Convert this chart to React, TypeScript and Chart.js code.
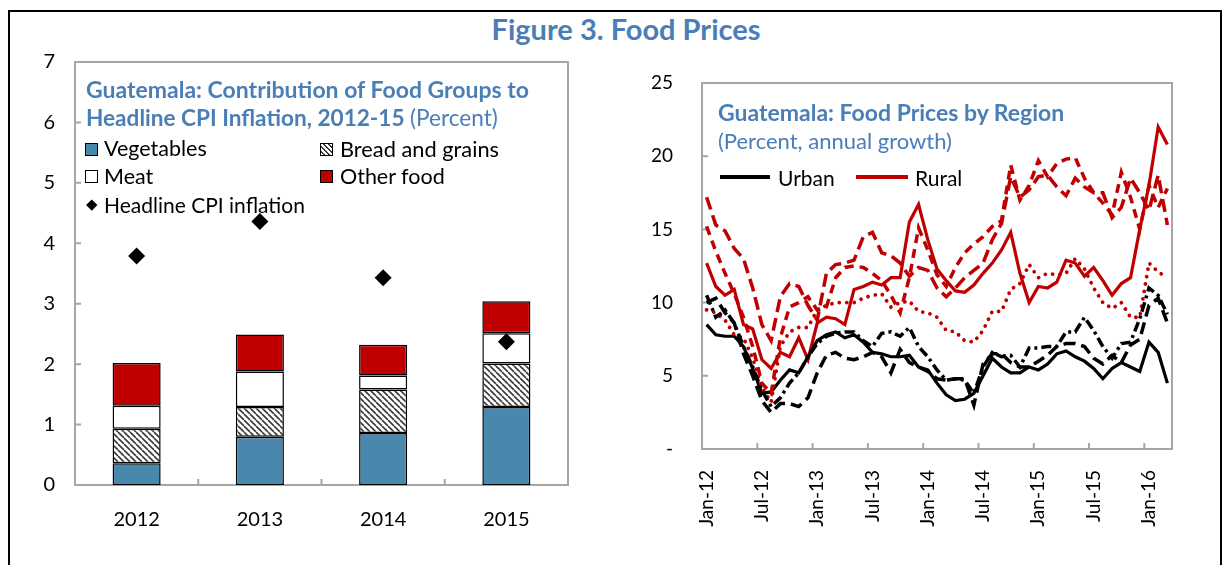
import React, { useEffect, useRef } from 'react';
import { Chart, registerables } from 'chart.js';

Chart.register(...registerables);

const FONT = 'Lato, "Noto Sans", sans-serif';
const TITLE_BLUE = '#4A7EB6';
const VEG_BLUE = '#4A87AD';
const DARK_RED = '#C00000';
const AXIS_GRAY = '#A6A6A6';

// ---------- Left panel data ----------
const years = ['2012', '2013', '2014', '2015'];
const vegetables = [0.36, 0.8, 0.86, 1.29];
const breadGrains = [0.57, 0.49, 0.72, 0.72];
const meat = [0.38, 0.59, 0.23, 0.5];
const otherFood = [0.71, 0.61, 0.51, 0.53];
const headlineCPI = [3.79, 4.36, 3.43, 2.37];

// ---------- Right panel data ----------
const monthAbbr = ['Jan', 'Feb', 'Mar', 'Apr', 'May', 'Jun', 'Jul', 'Aug', 'Sep', 'Oct', 'Nov', 'Dec'];
const yearSuffixes = ['12', '13', '14', '15', '16'];
const monthCount = 51;
const months = yearSuffixes.flatMap((y) => monthAbbr.map((m) => `${m}-${y}`)).slice(0, monthCount);

const urban = [
  8.5, 7.8, 7.7, 7.7, 7.0, 5.5, 3.8, 3.9, 4.7, 5.4,
  5.2, 6.3, 7.4, 7.8, 8.0, 7.6, 7.8, 7.3, 6.6, 6.5,
  6.3, 6.3, 6.4, 5.6, 5.4, 4.5, 3.7, 3.3, 3.4, 3.8,
  5.0, 6.2, 5.6, 5.2, 5.2, 5.6, 5.4, 5.8, 6.5, 6.7,
  6.3, 6.0, 5.5, 4.8, 5.5, 5.9, 5.6, 5.3, 7.3, 6.6,
  4.5,
];
const rural = [
  12.7, 11.1, 10.5, 10.9, 8.5, 8.2, 6.1, 5.5, 6.6, 6.3,
  7.6, 6.1, 8.6, 9.0, 8.9, 8.5, 10.9, 11.1, 11.4, 11.2,
  11.7, 11.7, 15.5, 16.7, 14.3, 12.3, 11.5, 10.8, 10.7, 11.2,
  12.0, 12.7, 13.6, 14.8, 12.0, 10.0, 11.1, 11.0, 11.4, 12.9,
  12.7, 11.8, 12.4, 11.5, 10.5, 11.3, 11.7, 15.0, 18.0, 22.0,
  20.8,
];
const urbanLongDash = [
  10.0, 10.3, 9.3, 8.6, 6.5, 5.0, 3.3, 2.5, 3.1, 3.1,
  2.9, 3.5, 5.2, 6.4, 6.6, 6.2, 6.1, 6.3, 6.6, 6.3,
  5.2, 6.8, 5.9, 5.6, 5.3, 4.8, 4.7, 4.8, 4.8, 3.0,
  5.8, 6.5, 6.5, 5.9, 5.6, 5.6, 6.0, 6.4, 7.0, 7.2,
  7.2, 7.0, 6.2, 5.8, 6.4, 5.9, 7.1, 7.5, 9.8, 10.3,
  8.6,
];
const urbanDashDot = [
  10.5, 9.0, 9.5, 8.6, 7.0, 5.6, 4.0, 2.9, 3.5, 4.5,
  5.2, 6.3, 7.2, 7.7, 7.9, 8.0, 8.0, 7.4, 7.0, 7.9,
  8.0, 7.7, 8.3, 7.0, 6.3, 5.4, 4.7, 4.8, 4.7, 3.8,
  5.6, 6.6, 6.3, 6.4, 5.6, 6.9, 6.9, 7.0, 7.0, 8.0,
  8.0, 9.0, 8.1, 7.0, 6.2, 7.2, 7.3, 8.9, 11.0, 10.5,
  9.2,
];
const ruralLongDash = [
  17.2, 15.3, 14.9, 13.7, 13.0, 11.0, 8.5, 7.4, 10.4, 11.3,
  11.1, 9.8, 8.8, 12.0, 12.6, 12.7, 12.9, 14.5, 14.8, 13.4,
  13.2, 12.7, 11.8, 12.4, 12.2, 11.0, 10.4, 11.0, 11.7, 12.2,
  12.7, 14.3, 15.4, 18.6, 17.2, 17.7, 18.6, 18.7, 17.9, 17.3,
  18.5, 17.9, 17.5, 17.5, 15.8, 16.5, 18.5, 17.5, 16.3, 18.7,
  15.3,
];
const ruralDash = [
  15.2, 13.5, 12.0, 10.6, 9.0, 7.0, 4.5, 3.8, 7.6, 9.7,
  10.0, 10.4, 9.5, 9.7, 11.7, 12.4, 12.5, 12.4, 12.0, 11.5,
  10.5, 9.3, 11.7, 15.1, 13.6, 11.9, 11.1, 12.4, 13.4, 14.0,
  14.5, 15.2, 15.6, 19.4, 17.0, 18.0, 19.7, 18.6, 19.5, 19.8,
  19.9, 18.5, 17.5, 16.8, 16.0, 18.9, 17.2, 15.0, 18.0, 16.5,
  17.8,
];
const ruralDot = [
  9.5, 9.3, 8.8, 7.8, 7.6, 6.2, 4.2, 3.2, 7.0, 8.0,
  8.3, 8.3, 9.5, 9.8, 10.0, 10.0, 10.0, 10.3, 10.5, 10.6,
  9.7, 10.0, 10.1, 9.4, 9.3, 9.0, 8.1, 8.0, 7.4, 7.3,
  8.1, 9.4, 9.4, 10.9, 11.3, 12.6, 11.7, 12.0, 11.9, 12.0,
  13.0, 12.3, 11.0, 10.0, 9.6, 10.0, 9.0, 9.0, 12.7, 12.1,
  11.7,
];

Chart.defaults.font.family = FONT;
Chart.defaults.color = '#000';

const frameAndTicks = {
  id: 'frameAndTicks',
  beforeDatasetsDraw(chart: any, _args: any, opts: any) {
    const { ctx, chartArea: a } = chart;
    const xs = chart.scales.x;
    const ys = chart.scales.y;
    ctx.save();
    ctx.strokeStyle = AXIS_GRAY;
    ctx.lineWidth = 2;
    ctx.strokeRect(a.left, a.top, a.right - a.left, a.bottom - a.top);
    ctx.beginPath();
    ys.ticks.forEach((t: any) => {
      const y = ys.getPixelForValue(t.value);
      ctx.moveTo(a.left, y);
      ctx.lineTo(a.left + 6, y);
    });
    const n = xs.ticks.length;
    const step = n > 1 ? xs.getPixelForTick(1) - xs.getPixelForTick(0) : 0;
    const every = (opts && opts.every) || 1;
    for (let i = 1; i < n; i++) {
      if (i % every !== 0) continue;
      const x = xs.getPixelForTick(i) - step / 2;
      ctx.moveTo(x, a.bottom);
      ctx.lineTo(x, a.bottom - 6);
    }
    ctx.stroke();
    ctx.restore();
  },
};

function makeHatch(): CanvasPattern | string {
  const pc = document.createElement('canvas');
  pc.width = 6;
  pc.height = 6;
  const p = pc.getContext('2d');
  if (!p) return '#999';
  p.fillStyle = '#fff';
  p.fillRect(0, 0, 6, 6);
  p.strokeStyle = '#3a3a3a';
  p.lineWidth = 1.6;
  p.beginPath();
  for (const off of [-6, 0, 6]) {
    p.moveTo(off, 0);
    p.lineTo(off + 6, 6);
  }
  p.stroke();
  return p.createPattern(pc, 'repeat') || '#999';
}

const fixY = (w: number) => (s: any) => {
  s.width = w;
  s.paddingTop = 0;
  s.paddingBottom = 0;
};
const fixX = (h: number) => (s: any) => {
  s.height = h;
  s.paddingLeft = 0;
  s.paddingRight = 0;
};

function LeftChart() {
  const ref = useRef<HTMLCanvasElement>(null);
  useEffect(() => {
    if (!ref.current) return;
    const hatch = makeHatch();
    const chart = new Chart(ref.current, {
      type: 'bar',
      data: {
        labels: years,
        datasets: [
          {
            type: 'line',
            label: 'Headline CPI inflation',
            data: headlineCPI,
            showLine: false,
            pointStyle: 'rectRot',
            pointRadius: 8.5,
            pointBorderWidth: 0,
            pointBackgroundColor: '#000',
            pointBorderColor: '#000',
            borderColor: '#000',
            backgroundColor: '#000',
            order: 0,
            stack: 'cpi',
          } as any,
          { label: 'Vegetables', data: vegetables, backgroundColor: VEG_BLUE, order: 1, stack: 'food' },
          { label: 'Bread and grains', data: breadGrains, backgroundColor: hatch as any, order: 1, stack: 'food' },
          { label: 'Meat', data: meat, backgroundColor: '#ffffff', order: 1, stack: 'food' },
          { label: 'Other food', data: otherFood, backgroundColor: DARK_RED, order: 1, stack: 'food' },
        ],
      },
      options: {
        responsive: false,
        animation: false,
        devicePixelRatio: 1,
        layout: { padding: { top: 14, right: 52, left: 0, bottom: 0 } },
        datasets: {
          bar: {
            borderColor: '#000',
            borderWidth: 1.5,
            borderSkipped: false,
            categoryPercentage: 1,
            barPercentage: 0.39,
          },
        },
        plugins: {
          legend: { display: false },
          tooltip: { enabled: false },
          frameAndTicks: { every: 1 },
        } as any,
        scales: {
          x: {
            stacked: true,
            grid: { display: false, drawTicks: false },
            border: { display: false },
            ticks: { color: '#000', font: { size: 20 }, padding: 23 },
            afterFit: fixX(80),
          },
          y: {
            stacked: true,
            min: 0,
            max: 7,
            ticks: { stepSize: 1, color: '#000', font: { size: 20 }, padding: 20 },
            grid: { display: false, drawTicks: false },
            border: { display: false },
            afterFit: fixY(65),
          },
        },
      } as any,
      plugins: [frameAndTicks],
    });
    return () => chart.destroy();
  }, []);
  return <canvas ref={ref} width={610} height={517} style={{ position: 'absolute', left: 2, top: 40 }} />;
}

function RightChart() {
  const ref = useRef<HTMLCanvasElement>(null);
  useEffect(() => {
    if (!ref.current) return;
    const line = (label: string, data: number[], color: string, dash: number[], cap: string = 'butt', width = 3.2) => ({
      label,
      data,
      borderColor: color,
      backgroundColor: color,
      borderWidth: width,
      borderDash: dash,
      borderCapStyle: cap,
      pointRadius: 0,
      tension: 0,
      fill: false,
    });
    const chart = new Chart(ref.current, {
      type: 'line',
      data: {
        labels: months,
        datasets: [
          line('Urban (dash-dot)', urbanDashDot, '#000', [10, 4, 3, 4], 'butt', 3.5),
          line('Urban (long dash)', urbanLongDash, '#000', [12, 6], 'butt', 3.5),
          line('Rural (dotted)', ruralDot, DARK_RED, [0.01, 7.5], 'round', 3.8),
          line('Rural (dash)', ruralDash, DARK_RED, [9, 6], 'butt', 3.5),
          line('Rural (long dash)', ruralLongDash, DARK_RED, [13, 6], 'butt', 3.5),
          line('Urban', urban, '#000', []),
          line('Rural', rural, DARK_RED, []),
        ] as any,
      },
      options: {
        responsive: false,
        animation: false,
        devicePixelRatio: 1,
        layout: { padding: { top: 35, right: 48, left: 0, bottom: 0 } },
        plugins: {
          legend: { display: false },
          tooltip: { enabled: false },
          frameAndTicks: { every: 6 },
        } as any,
        scales: {
          x: {
            type: 'category',
            offset: true,
            grid: { display: false, drawTicks: false },
            border: { display: false },
            ticks: {
              autoSkip: false,
              minRotation: 90,
              maxRotation: 90,
              color: '#000',
              font: { size: 19 },
              padding: 21,
              callback: (_v: any, i: number) => (i % 6 === 0 ? months[i] : ''),
            },
            afterFit: fixX(116),
          },
          y: {
            min: 0,
            max: 25,
            ticks: {
              stepSize: 5,
              color: '#000',
              font: { size: 19 },
              padding: 29,
              callback: (v: any) => (v === 0 ? '-' : String(v)),
            },
            grid: { display: false, drawTicks: false },
            border: { display: false },
            afterFit: fixY(82),
          },
        },
      } as any,
      plugins: [frameAndTicks],
    });
    return () => chart.destroy();
  }, []);
  return <canvas ref={ref} width={600} height={517} style={{ position: 'absolute', left: 612, top: 40 }} />;
}

type LabelProps = {
  x: number;
  cy: number;
  size: number;
  bold?: boolean;
  color?: string;
  center?: boolean;
  children: React.ReactNode;
};

function Label({ x, cy, size, bold, color, center, children }: LabelProps) {
  const top = cy - 8 - 0.629 * size;
  return (
    <div
      style={{
        position: 'absolute',
        left: x - 8,
        top,
        fontFamily: FONT,
        fontSize: size,
        lineHeight: `${1.2 * size}px`,
        fontWeight: bold ? 700 : 400,
        color: color || '#000',
        whiteSpace: 'nowrap',
        transform: center ? 'translateX(-50%)' : undefined,
      }}
    >
      {children}
    </div>
  );
}

function Box({ x, y, w, h, style }: { x: number; y: number; w: number; h: number; style: React.CSSProperties }) {
  return <div style={{ position: 'absolute', left: x - 8, top: y - 8, width: w, height: h, boxSizing: 'border-box', ...style }} />;
}

export default function App() {
  return (
    <div style={{ position: 'relative', width: 1214, height: 557, overflow: 'hidden', fontFamily: FONT }}>
      <div
        style={{
          position: 'absolute',
          left: 0,
          top: 2,
          width: 1214,
          height: 600,
          boxSizing: 'border-box',
          borderTop: '2px solid #000',
          borderLeft: '2px solid #000',
          borderRight: '2px solid #000',
        }}
      />
      <LeftChart />
      <RightChart />

      <Label x={626} cy={30} size={29} bold color={TITLE_BLUE} center>
        Figure 3. Food Prices
      </Label>

      {/* Left panel title and legend */}
      <Label x={86} cy={90} size={23} bold color={TITLE_BLUE}>
        Guatemala: Contribution of Food Groups to
      </Label>
      <Label x={86} cy={118} size={22.6} bold color={TITLE_BLUE}>
        Headline CPI Inflation, 2012-15 <span style={{ fontWeight: 400 }}>(Percent)</span>
      </Label>

      <Box x={85} y={143} w={13} h={13} style={{ background: VEG_BLUE, border: '1.5px solid #000' }} />
      <Label x={104} cy={149.5} size={21.5}>Vegetables</Label>
      <Box
        x={320}
        y={143}
        w={13}
        h={13}
        style={{
          background: 'repeating-linear-gradient(45deg, #fff 0px, #fff 2px, #3a3a3a 2px, #3a3a3a 3.5px)',
          border: '1.5px solid #000',
        }}
      />
      <Label x={340} cy={149.5} size={21.8}>Bread and grains</Label>
      <Box x={85} y={170} w={13} h={13} style={{ background: '#fff', border: '1.5px solid #000' }} />
      <Label x={104} cy={177.5} size={21.5}>Meat</Label>
      <Box x={320} y={170} w={13} h={13} style={{ background: DARK_RED, border: '1.5px solid #000' }} />
      <Label x={340} cy={177.5} size={21.5}>Other food</Label>
      <Box x={88} y={201} w={7.5} h={7.5} style={{ background: '#000', transform: 'rotate(45deg)' }} />
      <Label x={104} cy={205.5} size={21}>Headline CPI inflation</Label>

      {/* Right panel title and legend */}
      <Label x={718} cy={113} size={23} bold color={TITLE_BLUE}>
        Guatemala: Food Prices by Region
      </Label>
      <Label x={718} cy={142} size={22} color={TITLE_BLUE}>
        (Percent, annual growth)
      </Label>
      <Box x={720} y={175} w={50} h={4} style={{ background: '#000' }} />
      <Label x={778} cy={178} size={21}>Urban</Label>
      <Box x={856} y={175} w={52} h={4} style={{ background: DARK_RED }} />
      <Label x={915} cy={178} size={21}>Rural</Label>
    </div>
  );
}
